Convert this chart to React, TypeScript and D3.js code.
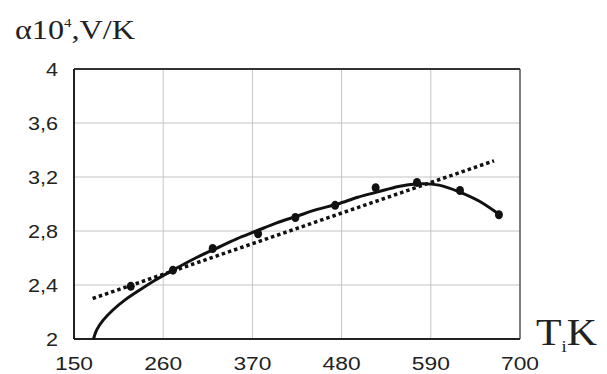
import React, { useEffect, useRef } from 'react';
import * as d3 from 'd3';

// measured points (T, alpha*1e4)
const pointT = [220, 272, 321, 377, 423, 472, 522, 573, 626, 674];
const pointA = [2.39, 2.51, 2.67, 2.78, 2.9, 2.99, 3.12, 3.16, 3.1, 2.92];

// solid fitted curve
const curveT = [174, 178, 186, 198, 213, 231, 250, 272, 300, 325, 350, 375, 400, 425, 450, 475, 500, 525, 550, 575, 600, 625, 650, 675];
const curveA = [2.0, 2.067, 2.14, 2.215, 2.29, 2.363, 2.435, 2.51, 2.6, 2.67, 2.74, 2.8, 2.86, 2.91, 2.96, 3.0, 3.05, 3.09, 3.13, 3.15, 3.14, 3.09, 3.02, 2.92];

// dotted linear fit
const lineT = [173, 668];
const lineA = [2.3, 3.32];

const xTicks = [150, 260, 370, 480, 590, 700];
const yTicks = [2, 2.4, 2.8, 3.2, 3.6, 4];

const W = 607;
const H = 374;
const margin = { top: 69, right: 87, bottom: 35, left: 74 };
const SX = 1.2; // glyphs in the picture are stretched horizontally

export default function App() {
  const svgRef = useRef<SVGSVGElement>(null);

  useEffect(() => {
    const svg = d3.select(svgRef.current);
    svg.selectAll('*').remove();

    const x = d3.scaleLinear().domain([150, 700]).range([margin.left, W - margin.right]);
    const y = d3.scaleLinear().domain([2, 4]).range([H - margin.bottom, margin.top]);

    const g = svg.append('g');

    // grid
    g.selectAll('.vg')
      .data(xTicks.slice(1, -1))
      .enter()
      .append('line')
      .attr('x1', d => x(d)).attr('x2', d => x(d))
      .attr('y1', y(2)).attr('y2', y(4))
      .attr('stroke', '#c4c4c4').attr('stroke-width', 1);
    g.selectAll('.hg')
      .data(yTicks.slice(1, -1))
      .enter()
      .append('line')
      .attr('x1', x(150)).attr('x2', x(700))
      .attr('y1', d => y(d)).attr('y2', d => y(d))
      .attr('stroke', '#c4c4c4').attr('stroke-width', 1);

    // frame
    g.append('line').attr('x1', x(700)).attr('x2', x(700)).attr('y1', y(4)).attr('y2', y(2))
      .attr('stroke', '#555').attr('stroke-width', 1.5);
    g.append('line').attr('x1', x(150)).attr('x2', x(700)).attr('y1', y(4)).attr('y2', y(4))
      .attr('stroke', '#333').attr('stroke-width', 2);
    g.append('line').attr('x1', x(150)).attr('x2', x(150)).attr('y1', y(4)).attr('y2', y(2))
      .attr('stroke', '#222').attr('stroke-width', 2);
    g.append('line').attr('x1', x(150)).attr('x2', x(700)).attr('y1', y(2)).attr('y2', y(2))
      .attr('stroke', '#222').attr('stroke-width', 2);

    // tick labels
    g.selectAll('.xt')
      .data(xTicks)
      .enter()
      .append('text')
      .attr('transform', d => `translate(${x(d)},${H - 4}) scale(${SX},1)`)
      .attr('text-anchor', 'middle')
      .attr('font-family', 'Liberation Sans, Arial, sans-serif')
      .attr('font-size', 19)
      .attr('fill', '#222')
      .text(d => d);
    g.selectAll('.yt')
      .data(yTicks)
      .enter()
      .append('text')
      .attr('transform', d => `translate(58,${y(d) + 7}) scale(${SX},1)`)
      .attr('text-anchor', 'end')
      .attr('font-family', 'Liberation Sans, Arial, sans-serif')
      .attr('font-size', 18)
      .attr('fill', '#222')
      .text(d => String(d).replace('.', ','));

    // dotted fit
    const lineData = lineT.map((t, i) => [t, lineA[i]] as [number, number]);
    g.append('path')
      .datum(lineData)
      .attr('d', d3.line<[number, number]>().x(d => x(d[0])).y(d => y(d[1])))
      .attr('fill', 'none')
      .attr('stroke', '#111')
      .attr('stroke-width', 3.5)
      .attr('stroke-dasharray', '3.5,3');

    // solid curve
    const curveData = curveT.map((t, i) => [t, curveA[i]] as [number, number]);
    g.append('path')
      .datum(curveData)
      .attr('d', d3.line<[number, number]>().x(d => x(d[0])).y(d => y(d[1])).curve(d3.curveNatural))
      .attr('fill', 'none')
      .attr('stroke', '#111')
      .attr('stroke-width', 3);

    // points
    g.selectAll('.pt')
      .data(pointT)
      .enter()
      .append('ellipse')
      .attr('cx', d => x(d))
      .attr('cy', (d, i) => y(pointA[i]))
      .attr('rx', 4)
      .attr('ry', 4.5)
      .attr('fill', '#111');
  }, []);

  return (
    <div style={{ position: 'absolute', left: 0, top: 0, width: W, height: H, background: '#fff' }}>
      <svg ref={svgRef} width={W} height={H} style={{ position: 'absolute', left: 0, top: 0 }} />
      <svg width={W} height={H} style={{ position: 'absolute', left: 0, top: 0, pointerEvents: 'none' }}>
        <text transform="translate(15,39) scale(1.15,1)" fontFamily="Liberation Serif, Times New Roman, serif" fontSize={28} fill="#222">
          α10<tspan dy={-12} fontSize={13}>4</tspan><tspan dy={12}>,V/K</tspan>
        </text>
        <text transform="translate(536,345) scale(1.1,1)" fontFamily="Liberation Serif, Times New Roman, serif" fontSize={38} fill="#222">
          T<tspan dy={7} fontSize={17}>i</tspan><tspan dy={-7}>K</tspan>
        </text>
      </svg>
    </div>
  );
}
